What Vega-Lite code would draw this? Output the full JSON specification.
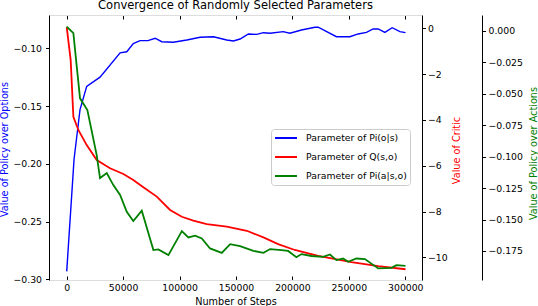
{
  "$schema": "https://vega.github.io/schema/vega-lite/v6.json",
  "width": 373,
  "height": 265,
  "autosize": {"type": "none"},
  "padding": {"left": 49, "top": 15, "right": 116, "bottom": 26},
  "background": "white",
  "title": {"text": "Convergence of Randomly Selected Parameters", "font": "DejaVu Sans", "fontSize": 11.5, "fontWeight": "normal", "color": "black", "anchor": "middle", "frame": "group", "baseline": "alphabetic", "offset": -6},
  "config": {
    "view": {"stroke": null},
    "axis": {"labelFont": "DejaVu Sans", "titleFont": "DejaVu Sans", "labelFontSize": 9.3, "titleFontSize": 9.7, "titleFontWeight": "normal", "labelColor": "black", "tickColor": "black", "domainColor": "black", "grid": false, "tickSize": 3.5, "domainWidth": 1, "tickWidth": 1},
    "legend": {"orient": "none", "legendX": 222, "legendY": 114, "symbolType": "stroke", "symbolSize": 484, "symbolStrokeWidth": 1.8, "labelFont": "DejaVu Sans", "labelFontSize": 9.3, "labelColor": "black", "strokeColor": "#cccccc", "fillColor": "white", "padding": 3, "cornerRadius": 3, "clipHeight": 12, "rowPadding": 7, "labelOffset": 8, "symbolOffset": 0}
  },
  "resolve": {"scale": {"y": "independent"}, "axis": {"x": "independent", "y": "independent"}},
  "layer": [
    {
      "data": {"values": [
        {"step": 0, "value": -0.293, "series": "Parameter of Pi(o|s)"},
        {"step": 6500, "value": -0.196, "series": "Parameter of Pi(o|s)"},
        {"step": 11800, "value": -0.153, "series": "Parameter of Pi(o|s)"},
        {"step": 17700, "value": -0.133, "series": "Parameter of Pi(o|s)"},
        {"step": 29500, "value": -0.125, "series": "Parameter of Pi(o|s)"},
        {"step": 47300, "value": -0.104, "series": "Parameter of Pi(o|s)"},
        {"step": 53200, "value": -0.103, "series": "Parameter of Pi(o|s)"},
        {"step": 59000, "value": -0.096, "series": "Parameter of Pi(o|s)"},
        {"step": 65000, "value": -0.0934, "series": "Parameter of Pi(o|s)"},
        {"step": 72000, "value": -0.0934, "series": "Parameter of Pi(o|s)"},
        {"step": 78300, "value": -0.0913, "series": "Parameter of Pi(o|s)"},
        {"step": 84200, "value": -0.0943, "series": "Parameter of Pi(o|s)"},
        {"step": 94500, "value": -0.0948, "series": "Parameter of Pi(o|s)"},
        {"step": 106400, "value": -0.0928, "series": "Parameter of Pi(o|s)"},
        {"step": 118200, "value": -0.0905, "series": "Parameter of Pi(o|s)"},
        {"step": 130000, "value": -0.09, "series": "Parameter of Pi(o|s)"},
        {"step": 141800, "value": -0.0928, "series": "Parameter of Pi(o|s)"},
        {"step": 147700, "value": -0.0937, "series": "Parameter of Pi(o|s)"},
        {"step": 153600, "value": -0.092, "series": "Parameter of Pi(o|s)"},
        {"step": 161000, "value": -0.0876, "series": "Parameter of Pi(o|s)"},
        {"step": 168400, "value": -0.088, "series": "Parameter of Pi(o|s)"},
        {"step": 174300, "value": -0.0865, "series": "Parameter of Pi(o|s)"},
        {"step": 180200, "value": -0.087, "series": "Parameter of Pi(o|s)"},
        {"step": 191800, "value": -0.0856, "series": "Parameter of Pi(o|s)"},
        {"step": 197700, "value": -0.087, "series": "Parameter of Pi(o|s)"},
        {"step": 208000, "value": -0.0842, "series": "Parameter of Pi(o|s)"},
        {"step": 219900, "value": -0.0818, "series": "Parameter of Pi(o|s)"},
        {"step": 222800, "value": -0.0818, "series": "Parameter of Pi(o|s)"},
        {"step": 239000, "value": -0.09, "series": "Parameter of Pi(o|s)"},
        {"step": 250900, "value": -0.09, "series": "Parameter of Pi(o|s)"},
        {"step": 258200, "value": -0.0876, "series": "Parameter of Pi(o|s)"},
        {"step": 265600, "value": -0.0862, "series": "Parameter of Pi(o|s)"},
        {"step": 271500, "value": -0.0833, "series": "Parameter of Pi(o|s)"},
        {"step": 276000, "value": -0.0833, "series": "Parameter of Pi(o|s)"},
        {"step": 281900, "value": -0.0862, "series": "Parameter of Pi(o|s)"},
        {"step": 288400, "value": -0.0822, "series": "Parameter of Pi(o|s)"},
        {"step": 295200, "value": -0.0856, "series": "Parameter of Pi(o|s)"},
        {"step": 300200, "value": -0.0865, "series": "Parameter of Pi(o|s)"}
      ]},
      "mark": {"type": "line", "strokeWidth": 1.4, "clip": true},
      "encoding": {
        "x": {"field": "step", "type": "quantitative", "scale": {"domain": [-15700, 314800], "nice": false, "zero": false},
              "axis": {"orient": "bottom", "values": [0, 50000, 100000, 150000, 200000, 250000, 300000], "format": "d", "title": "Number of Steps", "domainColor": "#dddddd", "tickSize": -4, "labelPadding": 7, "titleBaseline": "alphabetic", "titleY": 24.5, "titleColor": "black"}},
        "y": {"field": "value", "type": "quantitative", "scale": {"domain": [-0.3005, -0.0712], "nice": false, "zero": false},
              "axis": {"orient": "left", "values": [-0.3, -0.25, -0.2, -0.15, -0.1], "format": ".2f", "title": "Value of Policy over Options", "titleColor": "#0000ff", "labelPadding": 4, "titleAngle": 270, "titleX": -45, "titleY": 134, "titleBaseline": "middle", "titleAlign": "center"}},
        "color": {"field": "series", "type": "nominal", "scale": {"domain": ["Parameter of Pi(o|s)", "Parameter of Q(s,o)", "Parameter of Pi(a|s,o)"], "range": ["#0000ff", "#ff0000", "#008000"]}, "legend": {"title": null}}
      }
    },
    {
      "data": {"values": [
        {"step": 0, "value": 0.05, "series": "Parameter of Q(s,o)"},
        {"step": 3500, "value": -1.38, "series": "Parameter of Q(s,o)"},
        {"step": 5900, "value": -3.86, "series": "Parameter of Q(s,o)"},
        {"step": 10300, "value": -4.44, "series": "Parameter of Q(s,o)"},
        {"step": 17700, "value": -5.1, "series": "Parameter of Q(s,o)"},
        {"step": 26600, "value": -5.75, "series": "Parameter of Q(s,o)"},
        {"step": 38400, "value": -6.11, "series": "Parameter of Q(s,o)"},
        {"step": 50200, "value": -6.36, "series": "Parameter of Q(s,o)"},
        {"step": 59000, "value": -6.62, "series": "Parameter of Q(s,o)"},
        {"step": 67900, "value": -6.94, "series": "Parameter of Q(s,o)"},
        {"step": 79800, "value": -7.35, "series": "Parameter of Q(s,o)"},
        {"step": 91600, "value": -7.93, "series": "Parameter of Q(s,o)"},
        {"step": 102000, "value": -8.23, "series": "Parameter of Q(s,o)"},
        {"step": 112200, "value": -8.4, "series": "Parameter of Q(s,o)"},
        {"step": 124100, "value": -8.55, "series": "Parameter of Q(s,o)"},
        {"step": 141800, "value": -8.66, "series": "Parameter of Q(s,o)"},
        {"step": 159600, "value": -8.84, "series": "Parameter of Q(s,o)"},
        {"step": 174300, "value": -9.13, "series": "Parameter of Q(s,o)"},
        {"step": 187300, "value": -9.42, "series": "Parameter of Q(s,o)"},
        {"step": 202100, "value": -9.68, "series": "Parameter of Q(s,o)"},
        {"step": 222800, "value": -9.94, "series": "Parameter of Q(s,o)"},
        {"step": 252300, "value": -10.21, "series": "Parameter of Q(s,o)"},
        {"step": 276000, "value": -10.38, "series": "Parameter of Q(s,o)"},
        {"step": 300200, "value": -10.52, "series": "Parameter of Q(s,o)"}
      ]},
      "mark": {"type": "line", "strokeWidth": 1.8, "clip": true},
      "encoding": {
        "x": {"field": "step", "type": "quantitative", "scale": {"domain": [-15700, 314800], "nice": false, "zero": false},
              "axis": {"orient": "top", "values": [0, 50000, 100000, 150000, 200000, 250000, 300000], "labels": false, "title": null, "domainColor": "#dddddd", "tickSize": -4}},
        "y": {"field": "value", "type": "quantitative", "scale": {"domain": [-10.99, 0.58], "nice": false, "zero": false},
              "axis": {"orient": "right", "values": [0, -2, -4, -6, -8, -10], "format": "d", "title": "Value of Critic", "titleColor": "#ff0000", "labelPadding": 2, "titleAngle": 270, "titleX": 34.7, "titleY": 135, "titleBaseline": "middle", "titleAlign": "center"}},
        "color": {"field": "series", "type": "nominal", "scale": {"domain": ["Parameter of Pi(o|s)", "Parameter of Q(s,o)", "Parameter of Pi(a|s,o)"], "range": ["#0000ff", "#ff0000", "#008000"]}, "legend": {"title": null}}
      }
    },
    {
      "data": {"values": [
        {"step": 0, "value": 0.0034, "series": "Parameter of Pi(a|s,o)"},
        {"step": 5900, "value": -0.0018, "series": "Parameter of Pi(a|s,o)"},
        {"step": 8900, "value": -0.0284, "series": "Parameter of Pi(a|s,o)"},
        {"step": 11800, "value": -0.0536, "series": "Parameter of Pi(a|s,o)"},
        {"step": 18300, "value": -0.0629, "series": "Parameter of Pi(a|s,o)"},
        {"step": 26600, "value": -0.099, "series": "Parameter of Pi(a|s,o)"},
        {"step": 29500, "value": -0.117, "series": "Parameter of Pi(a|s,o)"},
        {"step": 35500, "value": -0.113, "series": "Parameter of Pi(a|s,o)"},
        {"step": 41300, "value": -0.1226, "series": "Parameter of Pi(a|s,o)"},
        {"step": 47300, "value": -0.1305, "series": "Parameter of Pi(a|s,o)"},
        {"step": 53200, "value": -0.1438, "series": "Parameter of Pi(a|s,o)"},
        {"step": 59000, "value": -0.1512, "series": "Parameter of Pi(a|s,o)"},
        {"step": 66500, "value": -0.143, "series": "Parameter of Pi(a|s,o)"},
        {"step": 76800, "value": -0.1743, "series": "Parameter of Pi(a|s,o)"},
        {"step": 81200, "value": -0.1738, "series": "Parameter of Pi(a|s,o)"},
        {"step": 90100, "value": -0.1783, "series": "Parameter of Pi(a|s,o)"},
        {"step": 102000, "value": -0.1592, "series": "Parameter of Pi(a|s,o)"},
        {"step": 107800, "value": -0.1642, "series": "Parameter of Pi(a|s,o)"},
        {"step": 113700, "value": -0.1629, "series": "Parameter of Pi(a|s,o)"},
        {"step": 119700, "value": -0.165, "series": "Parameter of Pi(a|s,o)"},
        {"step": 127000, "value": -0.173, "series": "Parameter of Pi(a|s,o)"},
        {"step": 137400, "value": -0.1765, "series": "Parameter of Pi(a|s,o)"},
        {"step": 144800, "value": -0.1696, "series": "Parameter of Pi(a|s,o)"},
        {"step": 153600, "value": -0.1711, "series": "Parameter of Pi(a|s,o)"},
        {"step": 165400, "value": -0.1749, "series": "Parameter of Pi(a|s,o)"},
        {"step": 174300, "value": -0.1765, "series": "Parameter of Pi(a|s,o)"},
        {"step": 180200, "value": -0.1735, "series": "Parameter of Pi(a|s,o)"},
        {"step": 190300, "value": -0.1743, "series": "Parameter of Pi(a|s,o)"},
        {"step": 196200, "value": -0.175, "series": "Parameter of Pi(a|s,o)"},
        {"step": 203500, "value": -0.18, "series": "Parameter of Pi(a|s,o)"},
        {"step": 208000, "value": -0.1775, "series": "Parameter of Pi(a|s,o)"},
        {"step": 216800, "value": -0.179, "series": "Parameter of Pi(a|s,o)"},
        {"step": 227200, "value": -0.1797, "series": "Parameter of Pi(a|s,o)"},
        {"step": 233200, "value": -0.1778, "series": "Parameter of Pi(a|s,o)"},
        {"step": 239000, "value": -0.1823, "series": "Parameter of Pi(a|s,o)"},
        {"step": 244900, "value": -0.181, "series": "Parameter of Pi(a|s,o)"},
        {"step": 249400, "value": -0.1836, "series": "Parameter of Pi(a|s,o)"},
        {"step": 256700, "value": -0.181, "series": "Parameter of Pi(a|s,o)"},
        {"step": 264200, "value": -0.1815, "series": "Parameter of Pi(a|s,o)"},
        {"step": 276000, "value": -0.1889, "series": "Parameter of Pi(a|s,o)"},
        {"step": 287800, "value": -0.1884, "series": "Parameter of Pi(a|s,o)"},
        {"step": 292200, "value": -0.1863, "series": "Parameter of Pi(a|s,o)"},
        {"step": 300200, "value": -0.1868, "series": "Parameter of Pi(a|s,o)"}
      ]},
      "mark": {"type": "line", "strokeWidth": 1.8, "clip": true},
      "encoding": {
        "x": {"field": "step", "type": "quantitative", "scale": {"domain": [-15700, 314800], "nice": false, "zero": false}, "axis": null},
        "y": {"field": "value", "type": "quantitative", "scale": {"domain": [-0.1981, 0.0127], "nice": false, "zero": false},
              "axis": {"orient": "right", "offset": 60, "values": [0, -0.025, -0.05, -0.075, -0.1, -0.125, -0.15, -0.175], "format": ".3f", "title": "Value of Policy over Actions", "titleColor": "#008000", "labelPadding": 2.5, "titleAngle": 270, "titleX": 51.3, "titleY": 138, "titleBaseline": "middle", "titleAlign": "center"}},
        "color": {"field": "series", "type": "nominal", "scale": {"domain": ["Parameter of Pi(o|s)", "Parameter of Q(s,o)", "Parameter of Pi(a|s,o)"], "range": ["#0000ff", "#ff0000", "#008000"]}, "legend": {"title": null}}
      }
    }
  ]
}
